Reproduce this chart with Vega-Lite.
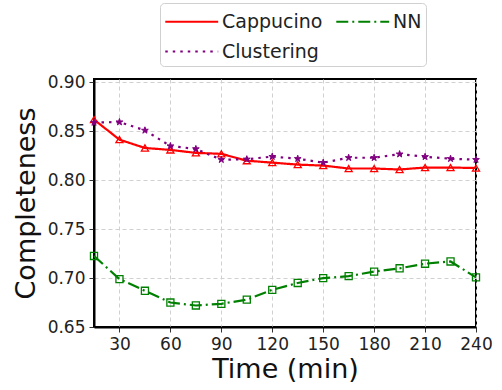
{
  "$schema": "https://vega.github.io/schema/vega-lite/v6.json",
  "width": 382,
  "height": 248,
  "autosize": {"type": "none"},
  "padding": {"left": 94, "top": 79, "right": 26, "bottom": 63},
  "background": "white",
  "config": {
    "font": "DejaVu Sans",
    "view": {"stroke": "black", "strokeWidth": 2},
    "axis": {
      "domainColor": "black", "domainWidth": 2,
      "tickColor": "#333", "tickSize": 5, "tickWidth": 1,
      "labelFont": "DejaVu Sans", "labelFontSize": 17, "labelColor": "#222",
      "labelPadding": 4,
      "titleFont": "DejaVu Sans", "titleFontSize": 27, "titleFontWeight": "normal", "titleColor": "#111",
      "gridColor": "#d0d0d0", "gridDash": [4, 3], "gridWidth": 1
    }
  },
  "data": {
    "values": [
      {"t": 15, "s": "Cappucino", "v": 0.862}, {"t": 30, "s": "Cappucino", "v": 0.8415}, {"t": 45, "s": "Cappucino", "v": 0.833}, {"t": 60, "s": "Cappucino", "v": 0.831},
      {"t": 75, "s": "Cappucino", "v": 0.828}, {"t": 90, "s": "Cappucino", "v": 0.827}, {"t": 105, "s": "Cappucino", "v": 0.820}, {"t": 120, "s": "Cappucino", "v": 0.818},
      {"t": 135, "s": "Cappucino", "v": 0.816}, {"t": 150, "s": "Cappucino", "v": 0.815}, {"t": 165, "s": "Cappucino", "v": 0.812}, {"t": 180, "s": "Cappucino", "v": 0.812},
      {"t": 195, "s": "Cappucino", "v": 0.811}, {"t": 210, "s": "Cappucino", "v": 0.813}, {"t": 225, "s": "Cappucino", "v": 0.813}, {"t": 240, "s": "Cappucino", "v": 0.8125},
      {"t": 15, "s": "NN", "v": 0.7226}, {"t": 30, "s": "NN", "v": 0.699}, {"t": 45, "s": "NN", "v": 0.687}, {"t": 60, "s": "NN", "v": 0.675},
      {"t": 75, "s": "NN", "v": 0.672}, {"t": 90, "s": "NN", "v": 0.6737}, {"t": 105, "s": "NN", "v": 0.678}, {"t": 120, "s": "NN", "v": 0.688},
      {"t": 135, "s": "NN", "v": 0.695}, {"t": 150, "s": "NN", "v": 0.700}, {"t": 165, "s": "NN", "v": 0.702}, {"t": 180, "s": "NN", "v": 0.7066},
      {"t": 195, "s": "NN", "v": 0.710}, {"t": 210, "s": "NN", "v": 0.7147}, {"t": 225, "s": "NN", "v": 0.717}, {"t": 240, "s": "NN", "v": 0.7007},
      {"t": 15, "s": "Clustering", "v": 0.859}, {"t": 30, "s": "Clustering", "v": 0.8595}, {"t": 45, "s": "Clustering", "v": 0.851}, {"t": 60, "s": "Clustering", "v": 0.835},
      {"t": 75, "s": "Clustering", "v": 0.832}, {"t": 90, "s": "Clustering", "v": 0.821}, {"t": 105, "s": "Clustering", "v": 0.8215}, {"t": 120, "s": "Clustering", "v": 0.8242},
      {"t": 135, "s": "Clustering", "v": 0.822}, {"t": 150, "s": "Clustering", "v": 0.818}, {"t": 165, "s": "Clustering", "v": 0.823}, {"t": 180, "s": "Clustering", "v": 0.823},
      {"t": 195, "s": "Clustering", "v": 0.8267}, {"t": 210, "s": "Clustering", "v": 0.824}, {"t": 225, "s": "Clustering", "v": 0.822}, {"t": 240, "s": "Clustering", "v": 0.821}
    ]
  },
  "encoding": {
    "x": {
      "field": "t", "type": "quantitative",
      "scale": {"domain": [15, 240], "nice": false, "zero": false},
      "axis": {"values": [30, 60, 90, 120, 150, 180, 210, 240], "title": "Time (min)", "titlePadding": 4, "labelFlush": false}
    },
    "y": {
      "field": "v", "type": "quantitative",
      "scale": {"domain": [0.65, 0.9035], "nice": false, "zero": false},
      "axis": {"values": [0.65, 0.7, 0.75, 0.8, 0.85, 0.9], "format": ".2f", "title": "Completeness", "titlePadding": 7, "labelFlush": false}
    }
  },
  "layer": [
    {
      "mark": {"type": "line", "strokeWidth": 2.2},
      "encoding": {
        "color": {
          "field": "s", "type": "nominal",
          "scale": {"domain": ["Cappucino", "Clustering", "NN"], "range": ["#ff0000", "#800080", "#008000"]},
          "legend": {
            "title": null, "orient": "none", "legendX": 66, "legendY": -76,
            "columns": 2, "symbolType": "M-1,0L3,0", "symbolSize": 700, "symbolStrokeWidth": 2,
            "labelFontSize": 19, "labelColor": "#222", "labelFont": "DejaVu Sans", "labelOffset": 29,
            "columnPadding": 9, "rowPadding": 5,
            "strokeColor": "#d0d0d0", "fillColor": "white", "cornerRadius": 4, "padding": 4
          }
        },
        "strokeDash": {
          "field": "s", "type": "nominal",
          "scale": {"domain": ["Cappucino", "Clustering", "NN"], "range": [[1, 0], [2.5, 5], [12, 4, 2, 4]]}
        }
      }
    },
    {
      "transform": [{"filter": "datum.s == 'Cappucino'"}],
      "mark": {"type": "point", "shape": "triangle-up", "stroke": "#ff0000", "fill": "white", "fillOpacity": 0, "strokeWidth": 1.3, "opacity": 1, "size": 50},
      "encoding": {}
    },
    {
      "transform": [{"filter": "datum.s == 'NN'"}],
      "mark": {"type": "point", "shape": "square", "stroke": "#008000", "fill": "white", "fillOpacity": 0, "strokeWidth": 1.3, "opacity": 1, "size": 50},
      "encoding": {}
    },
    {
      "transform": [{"filter": "datum.s == 'Clustering'"}],
      "mark": {"type": "point", "shape": "M0,-1L0.2245,-0.309L0.951,-0.309L0.363,0.118L0.588,0.809L0,0.382L-0.588,0.809L-0.363,0.118L-0.951,-0.309L-0.2245,-0.309Z", "stroke": "#800080", "fill": "#800080", "filled": true, "strokeWidth": 1, "opacity": 1, "size": 50},
      "encoding": {}
    }
  ]
}
